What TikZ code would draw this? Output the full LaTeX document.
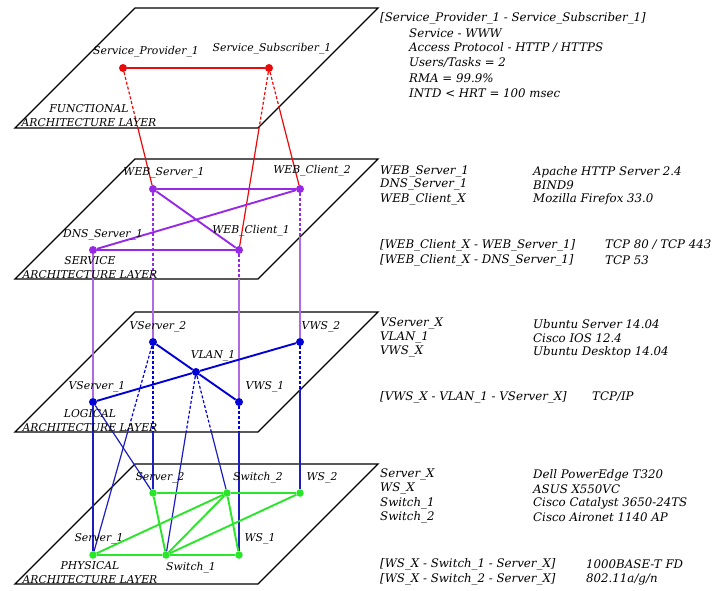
\documentclass[tikz,border=0pt]{standalone}
\usepackage{fontspec}
\setmainfont{DejaVu Serif}
\usetikzlibrary{calc}

\definecolor{funcred}{RGB}{235,10,10}
\definecolor{servpurple}{RGB}{150,40,230}
\definecolor{servdrop}{RGB}{175,105,225}
\definecolor{logblue}{RGB}{0,0,215}
\definecolor{logdrop}{RGB}{30,30,190}
\definecolor{physgreen}{RGB}{40,230,40}

\begin{document}
\begin{tikzpicture}[x=1pt,y=-1pt,
  lbl/.style={font=\itshape\fontsize{10.8}{12}\selectfont,inner sep=0pt},
  txt/.style={lbl,anchor=west,font=\itshape\fontsize{11.8}{13}\selectfont},
  layer/.style={lbl,align=center,font=\itshape\fontsize{10.8}{14}\selectfont},
  dot/.style={circle,fill,inner sep=0pt,minimum size=8pt},
  plane/.style={draw=black,line width=1.3pt},
  link/.style={line width=1.9pt},
  drop/.style={line width=1.2pt},
  hidden/.style={dash pattern=on 3pt off 2pt}]

\useasboundingbox (0,0) rectangle (715,590);

% the four layers
\foreach \t/\n in {8/F,159/S,312/L,464/P}{
  \draw[plane] (135,\t) coordinate (\n tl) -- (378,\t) coordinate (\n tr)
    -- (258,\t+120) coordinate (\n br) -- (15,\t+120) coordinate (\n bl) -- cycle;
}

% nodes
\node[dot,funcred] (sp1) at (123,68) {};
\node[dot,funcred] (ss1) at (269,68) {};

\node[dot,servpurple] (webs1) at (153,189) {};
\node[dot,servpurple] (webc2) at (300,189) {};
\node[dot,servpurple] (dns1) at (93,250) {};
\node[dot,servpurple] (webc1) at (239,250) {};

\node[dot,logblue] (vs2) at (153,342) {};
\node[dot,logblue] (vws2) at (300,342) {};
\node[dot,logblue] (vlan1) at (196,372) {};
\node[dot,logblue] (vs1) at (93,402) {};
\node[dot,logblue] (vws1) at (239,402) {};

\node[dot,physgreen,minimum size=7.5pt] (srv2) at (153,493) {};
\node[dot,physgreen,minimum size=7.5pt] (sw2) at (227,493) {};
\node[dot,physgreen,minimum size=7.5pt] (ws2) at (300,493) {};
\node[dot,physgreen,minimum size=7.5pt] (srv1) at (93,555) {};
\node[dot,physgreen,minimum size=7.5pt] (sw1) at (166,555) {};
\node[dot,physgreen,minimum size=7.5pt] (ws1) at (239,555) {};

% where the links leave their own layer
\coordinate (c1) at (intersection of sp1--webs1 and Fbl--Fbr);
\coordinate (c2) at (intersection of ss1--webc1 and Fbl--Fbr);
\coordinate (c3) at (intersection of ss1--webc2 and Fbr--Ftr);
\coordinate (c4) at (intersection of webs1--vs2 and Sbl--Sbr);
\coordinate (c5) at (intersection of webc1--vws1 and Sbl--Sbr);
\coordinate (c6) at (intersection of webc2--vws2 and Sbr--Str);
\coordinate (c7) at (intersection of vs2--srv2 and Lbl--Lbr);
\coordinate (c8) at (intersection of vs2--srv1 and Lbl--Lbr);
\coordinate (c9) at (intersection of vlan1--sw1 and Lbl--Lbr);
\coordinate (c10) at (intersection of vlan1--sw2 and Lbl--Lbr);
\coordinate (c11) at (intersection of vws1--ws1 and Lbl--Lbr);
\coordinate (c12) at (intersection of vws2--ws2 and Lbr--Ltr);

% functional -> service
\begin{scope}[funcred,drop]
\draw[hidden] (sp1) -- (c1); \draw (c1) -- (webs1);
\draw[hidden] (ss1) -- (c2); \draw (c2) -- (webc1);
\draw[hidden] (ss1) -- (c3); \draw (c3) -- (webc2);
\end{scope}

% service -> logical
\begin{scope}[drop]
\draw[servpurple,hidden] (webs1) -- (c4); \draw[servdrop] (c4) -- (vs2);
\draw[servpurple,hidden] (webc1) -- (c5); \draw[servdrop] (c5) -- (vws1);
\draw[servpurple,hidden] (webc2) -- (c6); \draw[servdrop] (c6) -- (vws2);
\draw[servdrop] (dns1) -- (vs1);
\end{scope}

% logical -> physical
\begin{scope}[logblue,drop]
\draw[hidden] (vs2) -- (c7); \draw[logdrop] (c7) -- (srv2);
\draw[hidden] (vs2) -- (c8); \draw[logdrop] (c8) -- (srv1);
\draw[hidden] (vlan1) -- (c9); \draw[logdrop] (c9) -- (sw1);
\draw[hidden] (vlan1) -- (c10); \draw[logdrop] (c10) -- (sw2);
\draw[hidden] (vws1) -- (c11); \draw[logdrop] (c11) -- (ws1);
\draw[hidden] (vws2) -- (c12); \draw[logdrop] (c12) -- (ws2);
\draw[logdrop] (vs1) -- (srv1);
\draw[logdrop] (vs1) -- (srv2);
\end{scope}

% links inside the layers
\draw[link,funcred] (sp1) -- (ss1);

\draw[link,servpurple] (webs1) -- (webc2);
\draw[link,servpurple] (dns1) -- (webc1);
\draw[link,servpurple] (webs1) -- (webc1);
\draw[link,servpurple] (dns1) -- (webc2);

\foreach \v in {vs1,vs2,vws1,vws2}
  \draw[link,logblue] (vlan1) -- (\v);

\draw[link,physgreen] (srv2) -- (sw2) -- (ws2);
\draw[link,physgreen] (srv1) -- (sw1) -- (ws1);
\draw[link,physgreen] (srv1) -- (sw2);
\draw[link,physgreen] (sw1) -- (sw2);
\draw[link,physgreen] (sw1) -- (ws2);
\draw[link,physgreen] (srv2) -- (sw1);
\draw[link,physgreen] (sw2) -- (ws1);

% node names
\node[lbl] (sp1l) at (146,52) {Service\_Provider\_1};
\node[lbl] (ss1l) at (272,49) {Service\_Subscriber\_1};
\node[lbl] (webs1l) at (164,173) {WEB\_Server\_1};
\node[lbl] (webc2l) at (312,171) {WEB\_Client\_2};
\node[lbl] (dns1l) at (103,235) {DNS\_Server\_1};
\node[lbl] (webc1l) at (251,231) {WEB\_Client\_1};
\node[lbl] (vs2l) at (158,327) {VServer\_2};
\node[lbl] (vws2l) at (321,327) {VWS\_2};
\node[lbl] (vlan1l) at (213,356) {VLAN\_1};
\node[lbl] (vs1l) at (97,387) {VServer\_1};
\node[lbl] (vws1l) at (265,387) {VWS\_1};
\node[lbl] (srv2l) at (160,478) {Server\_2};
\node[lbl] (sw2l) at (258,478) {Switch\_2};
\node[lbl] (ws2l) at (322,478) {WS\_2};
\node[lbl] (srv1l) at (99,539) {Server\_1};
\node[lbl] (ws1l) at (260,539) {WS\_1};
\node[lbl] (sw1l) at (191,568) {Switch\_1};

% layer names
\node[layer] (flayer) at (89,116) {FUNCTIONAL\\ARCHITECTURE LAYER};
\node[layer] (slayer) at (90,268) {SERVICE\\ARCHITECTURE LAYER};
\node[layer] (llayer) at (90,421) {LOGICAL\\ARCHITECTURE LAYER};
\node[layer] (player) at (90,573) {PHYSICAL\\ARCHITECTURE LAYER};

% functional notes
\node[txt] (f1) at (380,18) {[Service\_Provider\_1 - Service\_Subscriber\_1]};
\node[txt] (f2) at (409,33) {Service - WWW};
\node[txt] (f3) at (409,48) {Access Protocol - HTTP / HTTPS};
\node[txt] (f4) at (409,63) {Users/Tasks = 2};
\node[txt] (f5) at (409,78) {RMA = 99.9\%};
\node[txt] (f6) at (409,93) {INTD < HRT = 100 msec};

% service notes
\node[txt] (s1) at (380,172) {WEB\_Server\_1};
\node[txt] (s1b) at (533,172) {Apache HTTP Server 2.4};
\node[txt] (s2) at (380,185) {DNS\_Server\_1};
\node[txt] (s2b) at (533,185) {BIND9};
\node[txt] (s3) at (380,199) {WEB\_Client\_X};
\node[txt] (s3b) at (533,199) {Mozilla Firefox 33.0};
\node[txt] (s4) at (380,245) {[WEB\_Client\_X - WEB\_Server\_1]};
\node[txt] (s4b) at (605,245) {TCP 80 / TCP 443};
\node[txt] (s5) at (380,260) {[WEB\_Client\_X - DNS\_Server\_1]};
\node[txt] (s5b) at (605,260) {TCP 53};

% logical notes
\node[txt] (l1) at (380,324) {VServer\_X};
\node[txt] (l1b) at (533,324) {Ubuntu Server 14.04};
\node[txt] (l2) at (380,338) {VLAN\_1};
\node[txt] (l2b) at (533,338) {Cisco IOS 12.4};
\node[txt] (l3) at (380,352) {VWS\_X};
\node[txt] (l3b) at (533,352) {Ubuntu Desktop 14.04};
\node[txt] (l4) at (380,397) {[VWS\_X - VLAN\_1 - VServer\_X]};
\node[txt] (l4b) at (592,397) {TCP/IP};

% physical notes
\node[txt] (p1) at (380,475) {Server\_X};
\node[txt] (p1b) at (533,475) {Dell PowerEdge T320};
\node[txt] (p2) at (380,489) {WS\_X};
\node[txt] (p2b) at (533,489) {ASUS X550VC};
\node[txt] (p3) at (380,503) {Switch\_1};
\node[txt] (p3b) at (533,503) {Cisco Catalyst 3650-24TS};
\node[txt] (p4) at (380,517) {Switch\_2};
\node[txt] (p4b) at (533,517) {Cisco Aironet 1140 AP};
\node[txt] (p5) at (380,564) {[WS\_X - Switch\_1 - Server\_X]};
\node[txt] (p5b) at (586,564) {1000BASE-T FD};
\node[txt] (p6) at (380,579) {[WS\_X - Switch\_2 - Server\_X]};
\node[txt] (p6b) at (586,579) {802.11a/g/n};

\end{tikzpicture}
\end{document}
